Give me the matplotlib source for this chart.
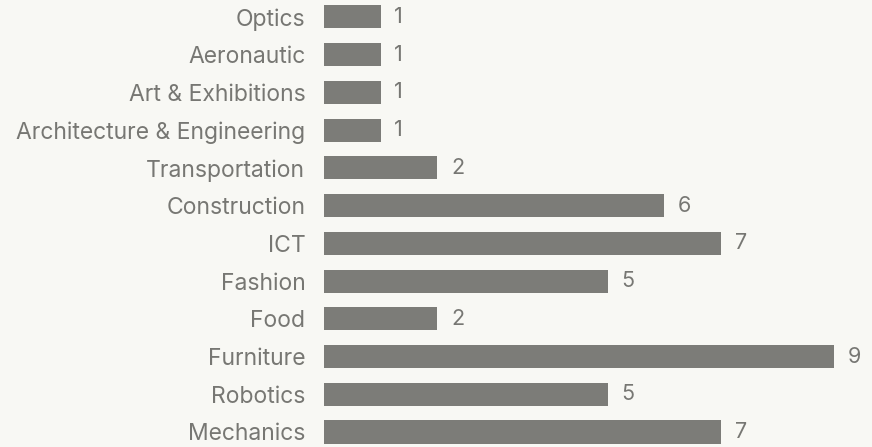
import matplotlib.pyplot as plt
import numpy as np

# sectors, bottom to top
sectors = ["Mechanics", "Robotics", "Furniture", "Food", "Fashion", "ICT",
           "Construction", "Transportation", "Architecture & Engineering",
           "Art & Exhibitions", "Aeronautic", "Optics"]
counts = [7, 5, 9, 2, 5, 7, 6, 2, 1, 1, 1, 1]

bg = "#f8f8f4"
bar_col = "#7c7c78"
txt_col = "#777773"

plt.rcParams["font.family"] = ["Inter", "DejaVu Sans"]

fig = plt.figure(figsize=(8.72, 4.47), dpi=100, facecolor=bg)
ax = fig.add_axes([324 / 872, 0, 1 - 324 / 872, 1])
ax.set_facecolor(bg)

y = np.arange(len(sectors))
ax.barh(y, counts, height=0.61, color=bar_col)
for yi, c in zip(y, counts):
    ax.text(c + 0.24, yi, str(c), va="center", ha="left",
            fontsize=15.5, color=txt_col)

ax.set_xlim(0, 548 / 56.7)
ax.set_ylim(-15 / 37.73, 432 / 37.73)
ax.set_yticks(y)
ax.set_yticklabels(sectors, fontsize=16.5, color=txt_col)
ax.tick_params(axis="y", length=0, pad=13.5)
ax.set_xticks([])
for s in ax.spines.values():
    s.set_visible(False)

fig.savefig("out.png", dpi=100, facecolor=bg)
